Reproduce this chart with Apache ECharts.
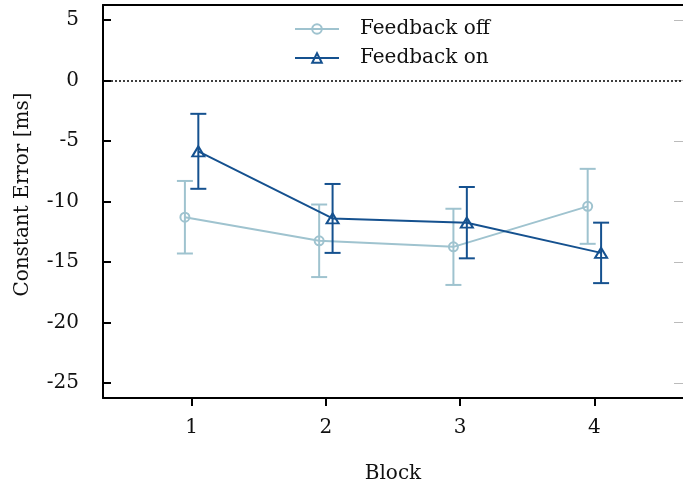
<!DOCTYPE html>
<html>
<head>
<meta charset="utf-8">
<script src="https://cdn.jsdelivr.net/npm/echarts@6/dist/echarts.min.js"></script>
<style>
  html, body { margin: 0; padding: 0; background: #fff; }
  #chart { width: 683px; height: 490px; }
</style>
</head>
<body>
<div id="chart"></div>
<script>
// Constant error per block, with and without feedback (mean ± error)
const blocks = [1, 2, 3, 4];
const offMean = [-11.3, -13.25, -13.75, -10.4];
const offErr  = [3.0, 3.0, 3.15, 3.1];
const onMean  = [-5.85, -11.4, -11.75, -14.25];
const onErr   = [3.1, 2.85, 2.95, 2.5];
const yTicks = [-25, -20, -15, -10, -5, 0, 5];

const seriesNames = ['Feedback off', 'Feedback on'];
const colOff = '#9fc3cf';
const colOn = '#15518f';
const dodge = 0.05;
const FONT = 'DejaVu Serif';
const FS = 20;

function points(means, shift) {
  return blocks.map((b, i) => [b + shift, means[i]]);
}
function bars(means, errs, shift) {
  return blocks.map((b, i) => [b + shift, means[i] - errs[i], means[i] + errs[i]]);
}

function errorBarSeries(name, data, color, z) {
  return {
    type: 'custom',
    name: name,
    data: data,
    z: z,
    silent: true,
    renderItem: function (params, api) {
      const x = api.value(0);
      const lo = api.coord([x, api.value(1)]);
      const hi = api.coord([x, api.value(2)]);
      const cap = 8;
      const style = { stroke: color, lineWidth: 2 };
      return {
        type: 'group',
        children: [
          { type: 'line', shape: { x1: lo[0], y1: lo[1], x2: hi[0], y2: hi[1] }, style: style },
          { type: 'line', shape: { x1: lo[0] - cap, y1: lo[1], x2: lo[0] + cap, y2: lo[1] }, style: style },
          { type: 'line', shape: { x1: hi[0] - cap, y1: hi[1], x2: hi[0] + cap, y2: hi[1] }, style: style }
        ]
      };
    }
  };
}

const plainAxis = {
  axisLine: { show: true, onZero: false, lineStyle: { color: '#000', width: 2 } },
  axisTick: { show: false },
  axisLabel: { show: false },
  splitLine: { show: false }
};

const chart = echarts.init(document.getElementById('chart'), null, { renderer: 'canvas' });
chart.setOption({
  animation: false,
  backgroundColor: '#fff',
  textStyle: { fontFamily: FONT, color: '#111' },
  grid: { left: 103, top: 5, width: 588, height: 393, containLabel: false },
  legend: {
    data: seriesNames,
    orient: 'vertical',
    left: 289,
    top: 14,
    itemWidth: 44,
    itemHeight: 12,
    itemGap: 9,
    textStyle: { fontFamily: FONT, fontSize: FS, color: '#111', padding: [0, 0, 0, 16] }
  },
  xAxis: [{
    type: 'value',
    min: 0.34,
    max: 4.66,
    name: 'Block',
    nameLocation: 'middle',
    nameGap: 66,
    nameTextStyle: { fontFamily: FONT, fontSize: FS, color: '#111' },
    axisLine: { show: true, onZero: false, lineStyle: { color: '#000', width: 2 } },
    axisTick: { show: true, inside: false, length: 8, lineStyle: { color: '#000', width: 2 }, customValues: blocks },
    axisLabel: { fontFamily: FONT, fontSize: FS, color: '#111', margin: 20, customValues: blocks },
    splitLine: { show: false }
  }, Object.assign({ type: 'value', position: 'top', min: 0.34, max: 4.66 }, plainAxis)],
  yAxis: [{
    type: 'value',
    min: -26.25,
    max: 6.25,
    name: 'Constant Error [ms]',
    nameLocation: 'middle',
    nameGap: 70,
    nameTextStyle: { fontFamily: FONT, fontSize: FS, color: '#111', padding: [0, 0, 0, 14] },
    axisLine: { show: true, onZero: false, lineStyle: { color: '#000', width: 2 } },
    axisTick: { show: true, inside: true, length: 8, lineStyle: { color: '#000', width: 2 }, customValues: yTicks },
    axisLabel: { fontFamily: FONT, fontSize: FS, color: '#111', margin: 24, customValues: yTicks },
    splitLine: { show: false }
  }, {
    type: 'value',
    position: 'right',
    min: -26.25,
    max: 6.25,
    axisLine: { show: false },
    axisTick: { show: true, inside: true, length: 9, lineStyle: { color: '#bbb', width: 1 }, customValues: yTicks },
    axisLabel: { show: false },
    splitLine: { show: false }
  }],
  series: [
    errorBarSeries('off-bars', bars(offMean, offErr, -dodge), colOff, 2),
    {
      type: 'line',
      name: 'Feedback off',
      data: points(offMean, -dodge),
      z: 3,
      color: colOff,
      lineStyle: { color: colOff, width: 2 },
      symbol: 'circle',
      symbolSize: 9,
      itemStyle: { color: 'rgba(255,255,255,0)', borderColor: colOff, borderWidth: 2 },
      markLine: {
        silent: true,
        symbol: ['none', 'none'],
        label: { show: false },
        lineStyle: { color: '#000', type: [2, 2], width: 1.5 },
        data: [{ yAxis: 0 }]
      }
    },
    errorBarSeries('on-bars', bars(onMean, onErr, dodge), colOn, 4),
    {
      type: 'line',
      name: 'Feedback on',
      data: points(onMean, dodge),
      z: 5,
      color: colOn,
      lineStyle: { color: colOn, width: 2 },
      symbol: 'triangle',
      symbolSize: [12, 10],
      itemStyle: { color: 'rgba(255,255,255,0)', borderColor: colOn, borderWidth: 2 }
    }
  ]
});
</script>
</body>
</html>
